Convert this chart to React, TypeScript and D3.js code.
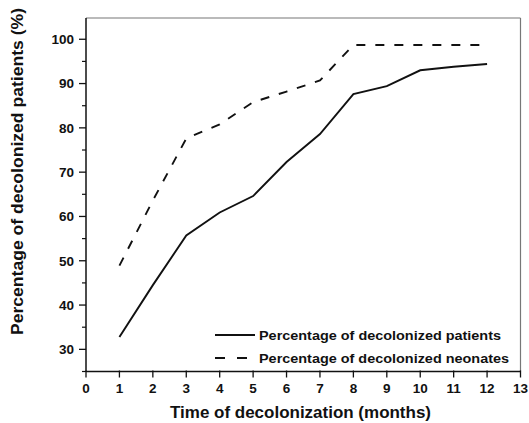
import React from "react";
import * as d3 from "d3";

const months = [1, 2, 3, 4, 5, 6, 7, 8, 9, 10, 11, 12];
const patients = [32.8, 44.5, 55.7, 60.9, 64.6, 72.3, 78.6, 87.6, 89.4, 93.0, 93.8, 94.4];
const neonates = [48.9, 63.6, 77.6, 80.8, 85.8, 88.2, 90.7, 98.7, 98.7, 98.7, 98.7, 98.7];
const xTicks = [0, 1, 2, 3, 4, 5, 6, 7, 8, 9, 10, 11, 12, 13];
const yTicks = [30, 40, 50, 60, 70, 80, 90, 100];
const yMinor = [25, 35, 45, 55, 65, 75, 85, 95];
const legendItems = ["Percentage of decolonized patients", "Percentage of decolonized neonates"];

const W = 529;
const H = 423;
const left = 86;
const right = 520.5;
const top = 18;
const bottom = 371.5;
const font = "'Liberation Sans', Arial, sans-serif";

export default function App() {
  const x = d3.scaleLinear().domain([0, 13]).range([left, right]);
  const y = d3.scaleLinear().domain([25, 104.8]).range([bottom, top]);

  const line = d3
    .line<[number, number]>()
    .x(d => x(d[0]))
    .y(d => y(d[1]));

  const solidPts = months.map((m, i) => [m, patients[i]] as [number, number]);
  const dashPts = months.map((m, i) => [m, neonates[i]] as [number, number]);

  return (
    <svg
      width={W}
      height={H}
      style={{ position: "absolute", left: 0, top: 0, background: "#fff" }}
      fontFamily={font}
    >
      {/* frame: top and right lighter */}
      <line x1={left} x2={right} y1={top} y2={top} stroke="#777" strokeWidth={1.2} />
      <line x1={right} x2={right} y1={top} y2={bottom} stroke="#777" strokeWidth={1.2} />
      <line x1={left} x2={left} y1={top} y2={bottom} stroke="#111" strokeWidth={1.5} />
      <line x1={left} x2={right} y1={bottom} y2={bottom} stroke="#111" strokeWidth={1.5} />

      {/* y ticks */}
      {yTicks.map(t => (
        <g key={"y" + t}>
          <line x1={left - 7} x2={left} y1={y(t)} y2={y(t)} stroke="#111" strokeWidth={1.3} />
          <text
            x={left - 12}
            y={y(t)}
            dy="0.36em"
            textAnchor="end"
            fontSize={13.5}
            fontWeight="bold"
            fill="#111"
          >
            {t}
          </text>
        </g>
      ))}
      {yMinor.map(t => (
        <line key={"ym" + t} x1={left - 4} x2={left} y1={y(t)} y2={y(t)} stroke="#111" strokeWidth={1.2} />
      ))}

      {/* x ticks */}
      {xTicks.map(t => (
        <g key={"x" + t}>
          <line x1={x(t)} x2={x(t)} y1={bottom - 1} y2={bottom + 6} stroke="#111" strokeWidth={1.3} />
          <text
            x={x(t)}
            y={393}
            textAnchor="middle"
            fontSize={13.5}
            fontWeight="bold"
            fill="#111"
          >
            {t}
          </text>
        </g>
      ))}

      {/* series */}
      <path d={line(dashPts) || ""} fill="none" stroke="#111" strokeWidth={1.9} strokeDasharray="9,10" />
      <path d={line(solidPts) || ""} fill="none" stroke="#111" strokeWidth={1.9} />

      {/* legend */}
      {legendItems.map((name, i) => (
        <g key={name} transform={`translate(0, ${335 + i * 23})`}>
          <line
            x1={215}
            x2={i === 1 ? 247 : 255}
            y1={0}
            y2={0}
            stroke="#111"
            strokeWidth={1.9}
            strokeDasharray={i === 1 ? "10,12" : undefined}
          />
          <text
            x={259}
            y={0}
            dy="0.35em"
            fontSize={13}
            fill="#111"
            textLength={i === 0 ? 242 : 250}
            lengthAdjust="spacingAndGlyphs"
            style={{ fontWeight: 600 }}
          >
            {name}
          </text>
        </g>
      ))}

      {/* axis titles */}
      <text
        x={(170 + 431) / 2}
        y={418}
        textAnchor="middle"
        fontSize={16.5}
        fontWeight="bold"
        fill="#111"
        textLength={261}
        lengthAdjust="spacingAndGlyphs"
      >
        Time of decolonization (months)
      </text>
      <text
        transform={`translate(23, 171.5) rotate(-90)`}
        textAnchor="middle"
        fontSize={16.5}
        fontWeight="bold"
        fill="#111"
        textLength={327}
        lengthAdjust="spacingAndGlyphs"
      >
        Percentage of decolonized patients (%)
      </text>
    </svg>
  );
}
